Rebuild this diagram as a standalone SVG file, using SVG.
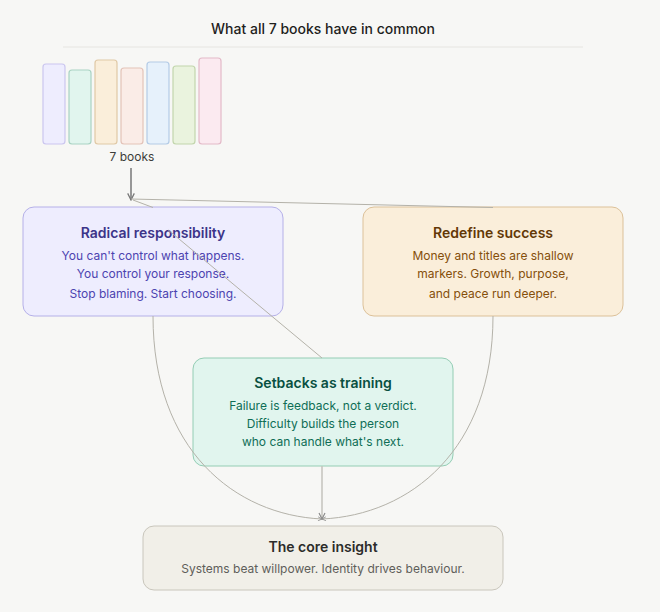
<svg xmlns="http://www.w3.org/2000/svg" width="660" height="612" viewBox="0 0 660 612">
<style>
text{font-family:Inter,"Noto Sans","Liberation Sans",sans-serif;text-anchor:middle}
.t{font-size:14px;font-weight:600}
.b{font-size:12px}
.book{stroke-width:1.2}
.c{fill:none;stroke:#b4b2a9;stroke-width:1}
</style>
<defs>
<marker id="ah" viewBox="0 0 10 10" refX="9" refY="5" markerWidth="5.5" markerHeight="5.5" orient="auto-start-reverse"><path d="M1,1 L9,5 L1,9" fill="none" stroke="#777" stroke-width="1.5"/></marker>
<marker id="as" viewBox="0 0 10 10" refX="9" refY="5" markerWidth="5" markerHeight="5" orient="auto"><path d="M1,1 L9,5 L1,9" fill="none" stroke="#888" stroke-width="1.5"/></marker>
</defs>
<rect width="660" height="612" fill="#f7f7f5"/>
<g id="title">
<text x="323" y="34" style="font-size:14px;font-weight:500;fill:#1f1f1d">What all 7 books have in common</text>
<line x1="63" y1="47" x2="583" y2="47" stroke="#e6e5e1" stroke-width="1"/>
</g>
<g id="books">
<rect class="book" x="43" y="64" width="22" height="80" rx="3" fill="#eeedfe" stroke="#cbc6ef"/>
<rect class="book" x="69" y="70" width="22" height="74" rx="3" fill="#e1f5ee" stroke="#a9d3c3"/>
<rect class="book" x="95" y="60" width="22" height="84" rx="3" fill="#faeeda" stroke="#e0c9a6"/>
<rect class="book" x="121" y="68" width="22" height="76" rx="3" fill="#faece7" stroke="#e3c3b8"/>
<rect class="book" x="147" y="62" width="22" height="82" rx="3" fill="#e6f1fb" stroke="#b3cbe6"/>
<rect class="book" x="173" y="66" width="22" height="78" rx="3" fill="#eaf3de" stroke="#c2d6ac"/>
<rect class="book" x="199" y="58" width="22" height="86" rx="3" fill="#fbeaf0" stroke="#e3bac8"/>
<text x="132" y="161" style="font-size:12px;fill:#3d3d3a">7 books</text>
</g>
<g id="n-radical">
<rect x="23" y="207" width="260" height="109" rx="11" fill="#eeedfe" stroke="#b5b0e8" stroke-width="1"/>
<text class="t" x="153" y="238" fill="#3c3489">Radical responsibility</text>
<text class="b" x="153" y="260" fill="#4c43b0">You can't control what happens.</text>
<text class="b" x="153" y="278" fill="#4c43b0">You control your response.</text>
<text class="b" x="153" y="298" fill="#4c43b0">Stop blaming. Start choosing.</text>
</g>
<g id="n-success">
<rect x="363" y="207" width="260" height="109" rx="11" fill="#faeeda" stroke="#dcc199" stroke-width="1"/>
<text class="t" x="493" y="238" fill="#633806">Redefine success</text>
<text class="b" x="493" y="260" fill="#854f0b">Money and titles are shallow</text>
<text class="b" x="493" y="278" fill="#854f0b">markers. Growth, purpose,</text>
<text class="b" x="493" y="298" fill="#854f0b">and peace run deeper.</text>
</g>
<g id="n-setbacks">
<rect x="193" y="358" width="260" height="108" rx="11" fill="#e1f5ee" stroke="#94cdb4" stroke-width="1"/>
<text class="t" x="323" y="388" fill="#085041">Setbacks as training</text>
<text class="b" x="323" y="410" fill="#0f6e56">Failure is feedback, not a verdict.</text>
<text class="b" x="323" y="428" fill="#0f6e56">Difficulty builds the person</text>
<text class="b" x="323" y="446" fill="#0f6e56">who can handle what's next.</text>
</g>
<g id="n-core">
<rect x="143" y="526" width="360" height="64" rx="11" fill="#f1efe8" stroke="#c9c6bc" stroke-width="1"/>
<text class="t" x="323" y="552" fill="#2c2c2a">The core insight</text>
<text class="b" x="323" y="573" fill="#5f5e5a">Systems beat willpower. Identity drives behaviour.</text>
</g>
<g id="connectors">
<line x1="131" y1="168" x2="131" y2="200" stroke="#777" stroke-width="1.5" marker-end="url(#ah)"/>
<path class="c" d="M493,207.5 L131,199"/>
<path class="c" d="M322,358 L131,199" stroke-dasharray="200 59 3 33 100"/>
<path class="c" d="M133,200 L153,207.5"/>
<path class="c" d="M153,316 C153,450 235,515 322,519" marker-end="url(#as)"/>
<path class="c" d="M493,316 C493,450 410,515 322,519" marker-end="url(#as)"/>
<path d="M322,466 L322,519" fill="none" stroke="#c4c3bd" stroke-width="1.5" marker-end="url(#as)"/>
</g>
</svg>
